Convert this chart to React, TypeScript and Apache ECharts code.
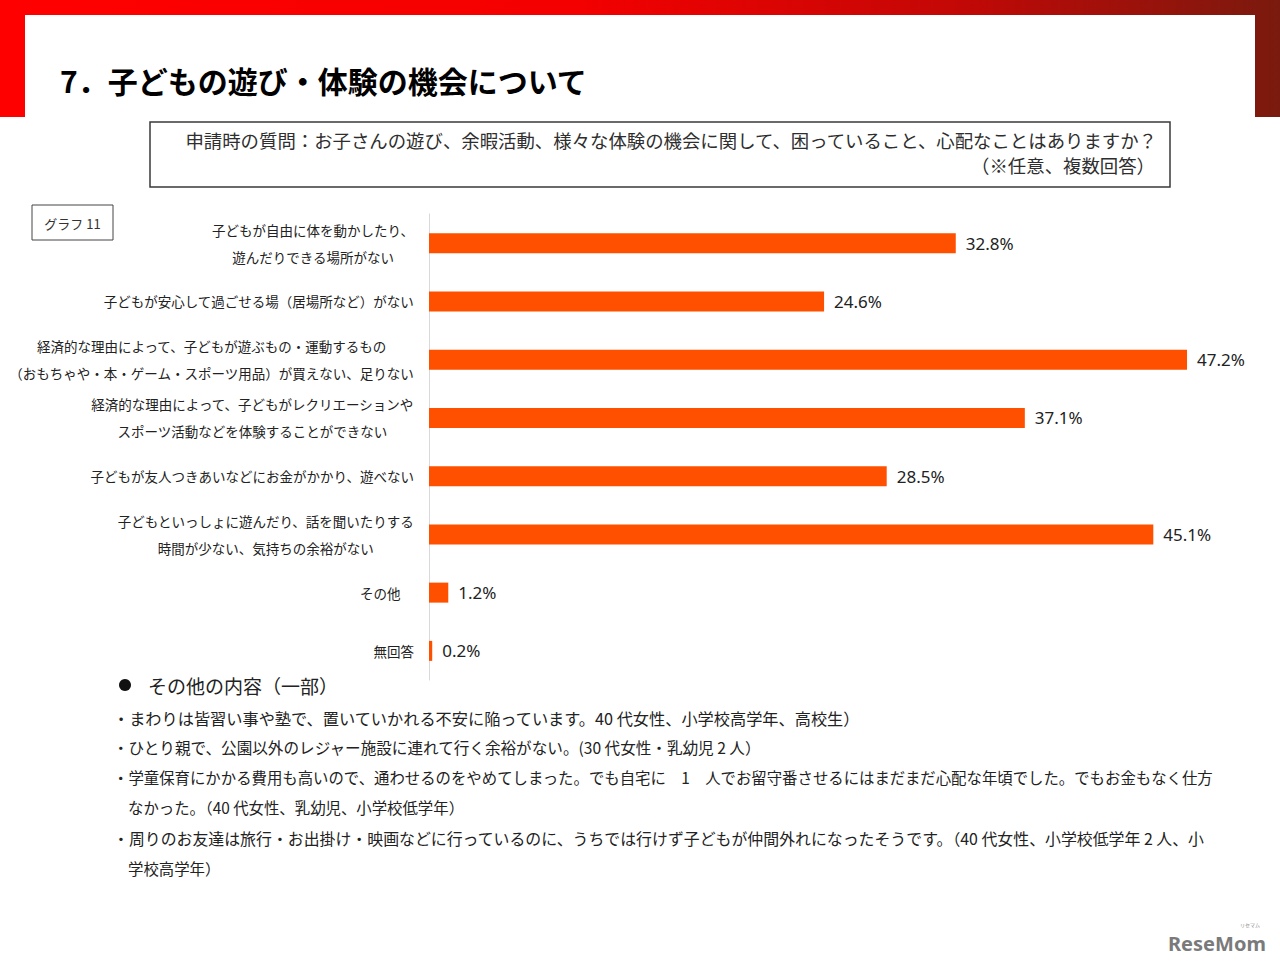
import React, { useEffect, useRef } from "react";
import * as echarts from "echarts";

const categories: string[] = [
  "子どもが自由に体を動かしたり、\n遊んだりできる場所がない",
  "子どもが安心して過ごせる場（居場所など）がない",
  "経済的な理由によって、子どもが遊ぶもの・運動するもの\n（おもちゃや・本・ゲーム・スポーツ用品）が買えない、足りない",
  "経済的な理由によって、子どもがレクリエーションや\nスポーツ活動などを体験することができない",
  "子どもが友人つきあいなどにお金がかかり、遊べない",
  "子どもといっしょに遊んだり、話を聞いたりする\n時間が少ない、気持ちの余裕がない",
  "その他　",
  "無回答",
];

const values: number[] = [32.8, 24.6, 47.2, 37.1, 28.5, 45.1, 1.2, 0.2];

const titleText = "7．子どもの遊び・体験の機会について";
const questionLines: string[] = [
  "申請時の質問：お子さんの遊び、余暇活動、様々な体験の機会に関して、困っていること、心配なことはありますか？",
  "（※任意、複数回答）",
];
const graphLabel = "グラフ 11";
const otherHeading = "その他の内容（一部）";
const otherLines: { text: string; indent: boolean }[] = [
  { text: "・まわりは皆習い事や塾で、置いていかれる不安に陥っています。40 代女性、小学校高学年、高校生）", indent: false },
  { text: "・ひとり親で、公園以外のレジャー施設に連れて行く余裕がない。(30 代女性・乳幼児 2 人）", indent: false },
  { text: "・学童保育にかかる費用も高いので、通わせるのをやめてしまった。でも自宅に　1　人でお留守番させるにはまだまだ心配な年頃でした。でもお金もなく仕方", indent: false },
  { text: "なかった。（40 代女性、乳幼児、小学校低学年）", indent: true },
  { text: "・周りのお友達は旅行・お出掛け・映画などに行っているのに、うちでは行けず子どもが仲間外れになったそうです。（40 代女性、小学校低学年 2 人、小", indent: false },
  { text: "学校高学年）", indent: true },
];

const JP = '"Noto Sans CJK JP", "Noto Sans", sans-serif';

export default function App() {
  const ref = useRef<HTMLDivElement>(null);

  useEffect(() => {
    document.body.style.margin = "0";
    if (!ref.current) return;
    const chart = echarts.init(ref.current, null, { renderer: "svg" });

    const lineYs = [718, 747, 777, 807, 838, 868];
    const lineSizes = [16.2, 15.6, 15.4, 15.4, 15.9, 15.4];

    const graphic: any[] = [
      {
        type: "rect",
        shape: { x: 0, y: 0, width: 1280, height: 117 },
        style: {
          fill: new echarts.graphic.LinearGradient(0, 0, 1, 0, [
            { offset: 0, color: "#ff0000" },
            { offset: 0.45, color: "#f40000" },
            { offset: 0.75, color: "#c20806" },
            { offset: 1, color: "#7a1a0e" },
          ]),
        },
        silent: true,
      },
      {
        type: "rect",
        shape: { x: 25, y: 15, width: 1230, height: 102 },
        style: { fill: "#ffffff" },
        silent: true,
      },
      {
        type: "text",
        x: 60,
        y: 80,
        style: {
          text: titleText,
          fontSize: 30,
          fontWeight: "bold",
          fontFamily: JP,
          fill: "#000000",
          align: "left",
          textAlign: "left",
          verticalAlign: "middle",
          textVerticalAlign: "middle",
        },
      },
      {
        type: "rect",
        shape: { x: 150, y: 122, width: 1020, height: 65 },
        style: { fill: "none", stroke: "#3a3a3a", lineWidth: 1.5 },
      },
      {
        type: "text",
        x: 1157,
        y: 140,
        style: {
          text: questionLines[0],
          fontSize: 18.4,
          fontFamily: JP,
          fill: "#2e2e2e",
          align: "right",
          textAlign: "right",
          verticalAlign: "middle",
          textVerticalAlign: "middle",
        },
      },
      {
        type: "text",
        x: 1155,
        y: 165,
        style: {
          text: questionLines[1],
          fontSize: 18.4,
          fontFamily: JP,
          fill: "#2e2e2e",
          align: "right",
          textAlign: "right",
          verticalAlign: "middle",
          textVerticalAlign: "middle",
        },
      },
      {
        type: "rect",
        shape: { x: 32, y: 205, width: 81, height: 35 },
        style: { fill: "#ffffff", stroke: "#444444", lineWidth: 1 },
      },
      {
        type: "text",
        x: 72.5,
        y: 223,
        style: {
          text: graphLabel,
          fontSize: 13,
          fontFamily: JP,
          fill: "#333333",
          align: "center",
          textAlign: "center",
          verticalAlign: "middle",
          textVerticalAlign: "middle",
        },
      },
      {
        type: "circle",
        shape: { cx: 125, cy: 685, r: 6 },
        style: { fill: "#111111" },
      },
      {
        type: "text",
        x: 148,
        y: 685,
        style: {
          text: otherHeading,
          fontSize: 19,
          fontFamily: JP,
          fill: "#222222",
          align: "left",
          textAlign: "left",
          verticalAlign: "middle",
          textVerticalAlign: "middle",
        },
      },
      ...otherLines.map((l, i) => ({
        type: "text",
        x: l.indent ? 128 : 113,
        y: lineYs[i],
        style: {
          text: l.text,
          fontSize: lineSizes[i],
          fontFamily: JP,
          fill: "#222222",
          align: "left",
          textAlign: "left",
          verticalAlign: "middle",
          textVerticalAlign: "middle",
        },
      })),
      {
        type: "text",
        x: 1168,
        y: 943,
        style: {
          text: "ReseMom",
          fontSize: 20,
          fontWeight: "bold",
          fontFamily: '"Noto Sans", "DejaVu Sans", sans-serif',
          fill: "#7a7a7a",
          align: "left",
          textAlign: "left",
          verticalAlign: "middle",
          textVerticalAlign: "middle",
        },
      },
      {
        type: "text",
        x: 1240,
        y: 924,
        style: {
          text: "リセマム",
          fontSize: 5,
          fontFamily: JP,
          fill: "#8a8a8a",
          align: "left",
          textAlign: "left",
          verticalAlign: "middle",
          textVerticalAlign: "middle",
        },
      },
    ];

    const option: any = {
      animation: false,
      backgroundColor: "#ffffff",
      grid: { left: 429, right: 48, top: 214, bottom: 284, containLabel: false },
      xAxis: {
        type: "value",
        min: 0,
        max: 50,
        show: false,
      },
      yAxis: {
        type: "category",
        inverse: true,
        data: categories,
        axisLine: { show: true, lineStyle: { color: "#d9d9d9", width: 1 } },
        axisTick: { show: false },
        splitLine: { show: false },
        axisLabel: {
          margin: 15,
          interval: 0,
          formatter: (v: string) =>
            v
              .split("\n")
              .map((line) => `{c|${line}}`)
              .join("\n"),
          rich: {
            c: {
              align: "center",
              fontSize: 13.5,
              lineHeight: 27,
              color: "#222222",
              fontFamily: JP,
            },
          },
        },
      },
      series: [
        {
          type: "bar",
          data: values,
          barWidth: 20,
          itemStyle: { color: "#ff5000" },
          label: {
            show: true,
            position: "right",
            distance: 10,
            formatter: (p: any) => `${Number(p.value).toFixed(1)}%`,
            fontSize: 17,
            color: "#222222",
            fontFamily: '"Noto Sans", "DejaVu Sans", sans-serif',
          },
        },
      ],
      graphic,
    };

    chart.setOption(option);
    return () => {
      chart.dispose();
    };
  }, []);

  return <div ref={ref} style={{ width: 1280, height: 964 }} />;
}
